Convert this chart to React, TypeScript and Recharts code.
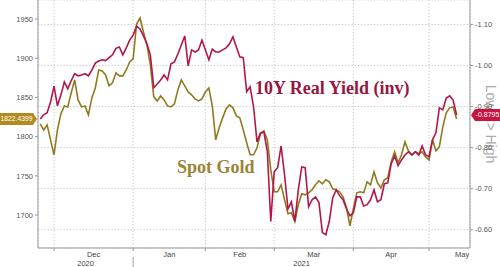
import React from 'react';
import { LineChart, Line, XAxis, YAxis, CartesianGrid, ReferenceLine, Customized } from 'recharts';

// x positions are weekday indices, 0 = Tue 1 Dec 2020
const FIRST_DAY = -4;

const goldSpot = [
  1816.3, 1808.6, 1815.0, 1795.9, 1776.8, 1808.6, 1829.0, 1839.2, 1837.9, 1855.8,
  1872.3, 1846.8, 1837.9, 1839.2, 1827.7, 1849.4, 1862.1, 1885.0, 1883.8, 1878.7,
  1864.7, 1868.5, 1881.2, 1877.4, 1877.4, 1885.0, 1895.2, 1899.1, 1943.6, 1951.3,
  1933.4, 1916.9, 1891.4, 1850.7, 1845.6, 1851.9, 1846.8, 1839.2, 1837.9, 1841.7,
  1859.6, 1872.3, 1864.7, 1857.0, 1853.2, 1848.1, 1845.6, 1848.1, 1857.0, 1862.1,
  1839.2, 1795.9, 1811.2, 1823.9, 1835.4, 1840.5, 1836.7, 1826.5, 1823.9, 1808.6,
  1792.1, 1776.8, 1776.8, 1785.7, 1803.5, 1807.4, 1795.9, 1757.7, 1729.7, 1729.7,
  1738.6, 1719.5, 1701.6, 1702.9, 1691.5, 1713.1, 1727.1, 1725.8, 1728.4, 1732.2,
  1738.6, 1743.7, 1739.9, 1745.0, 1742.4, 1733.5, 1732.2, 1729.7, 1723.3, 1709.3,
  1686.4, 1708.0, 1728.4, 1729.7, 1728.4, 1742.4, 1738.6, 1755.1, 1741.1, 1734.8,
  1745.0, 1747.5, 1767.9, 1780.6, 1766.6, 1776.8, 1793.3, 1781.9, 1776.8, 1780.6,
  1778.1, 1780.6, 1774.2, 1770.4, 1795.9, 1781.9, 1787.0, 1812.5, 1830.3, 1836.7,
  1837.9, 1822.4399,
];

const realYield10y = [
  -0.870, -0.880, -0.885, -0.911, -0.950, -0.902, -0.928, -0.960, -0.943, -0.963,
  -0.980, -0.975, -0.977, -0.980, -0.975, -0.989, -1.006, -1.011, -1.014, -1.012,
  -1.019, -1.026, -1.042, -1.045, -1.026, -1.043, -1.062, -1.074, -1.096, -1.089,
  -1.072, -1.053, -1.026, -0.946, -0.955, -0.965, -0.977, -0.965, -1.004, -1.009,
  -1.028, -1.050, -1.072, -0.999, -1.038, -1.033, -1.038, -1.062, -1.038, -1.014,
  -1.040, -1.033, -1.033, -1.038, -1.043, -1.053, -1.070, -1.045, -1.021, -1.019,
  -0.936, -0.948, -0.899, -0.814, -0.836, -0.838, -0.790, -0.620, -0.741, -0.751,
  -0.804, -0.734, -0.651, -0.668, -0.620, -0.697, -0.753, -0.751, -0.656, -0.673,
  -0.680, -0.666, -0.593, -0.588, -0.620, -0.678, -0.697, -0.683, -0.673, -0.651,
  -0.634, -0.641, -0.680, -0.680, -0.658, -0.661, -0.673, -0.697, -0.668, -0.673,
  -0.712, -0.714, -0.761, -0.780, -0.756, -0.770, -0.782, -0.790, -0.782, -0.790,
  -0.782, -0.804, -0.782, -0.778, -0.819, -0.836, -0.897, -0.892, -0.921, -0.926,
  -0.916, -0.8795,
];

const monthStarts = [0, 23, 44, 64, 87, 109];
const monthMids = [11.5, 33.5, 54, 75.5, 98, 118.6];
const monthNames = ['Dec', 'Jan', 'Feb', 'Mar', 'Apr', 'May'];
const years = ['2020', '2021'];
const goldTicks = [1700, 1750, 1800, 1850, 1900, 1950];
const yieldTicks = [-1.1, -1.0, -0.9, -0.8, -0.7, -0.6];

const chartData = goldSpot.map((g, i) => ({
  day: FIRST_DAY + i,
  gold: g,
  yield: realYield10y[i],
}));

const W = 500;
const H = 267;
const LEFT_W = 38;
const RIGHT_W = 30;
const X_DOMAIN: [number, number] = [-4.65, 120.9];
const PX_PER_DAY = (W - LEFT_W - RIGHT_W) / (X_DOMAIN[1] - X_DOMAIN[0]);

const RED = '#b3164a';
const GOLD = '#8f7a1f';
const AXIS = '#999';

const MonthTick = (props: any) => {
  const { x, y, payload } = props;
  const idx = monthStarts.indexOf(payload.value);
  const lx = x + (monthMids[idx] - payload.value) * PX_PER_DAY;
  return (
    <g>
      <text x={lx} y={y + 4} textAnchor="middle" fontSize={7.5} fill="#444">
        {monthNames[idx]}
      </text>
      {idx === 1 && (
        <g>
          <line x1={x} x2={x} y1={y + 4} y2={H} stroke="#888" strokeWidth={0.8} />
          <text x={(LEFT_W + x) / 2} y={y + 12.5} textAnchor="middle" fontSize={7.5} fill="#444">
            {years[0]}
          </text>
          <text x={(x + W - RIGHT_W) / 2} y={y + 12.5} textAnchor="middle" fontSize={7.5} fill="#444">
            {years[1]}
          </text>
        </g>
      )}
    </g>
  );
};

const GoldTag = (props: any) => {
  const { viewBox } = props;
  const y = viewBox.y;
  const tip = viewBox.x - 1;
  return (
    <g>
      <path d={`M0,${y - 6} H${tip - 4} L${tip},${y} L${tip - 4},${y + 6} H0 Z`} fill="#b38a1e" />
      <text x={(tip - 4) / 2} y={y + 2.4} textAnchor="middle" fontSize={6.8} fill="#fff">
        {goldSpot[goldSpot.length - 1].toFixed(4)}
      </text>
    </g>
  );
};

const YieldTag = (props: any) => {
  const { viewBox } = props;
  const y = viewBox.y;
  const tip = viewBox.x + viewBox.width + 1;
  return (
    <g>
      <path d={`M${tip},${y} L${tip + 4},${y - 6} H${W} V${y + 6} H${tip + 4} Z`} fill="#c8143f" />
      <text x={(tip + 4 + W) / 2} y={y + 2.5} textAnchor="middle" fontSize={7} fill="#fff">
        {realYield10y[realYield10y.length - 1].toFixed(4)}
      </text>
    </g>
  );
};

const Annotations = () => (
  <g>
    <text x={255} y={94} fontFamily="'Liberation Serif', serif" fontWeight="bold" fontSize={18} fill="#98163f">
      10Y Real Yield (inv)
    </text>
    <text x={177} y={173} fontFamily="'Liberation Serif', serif" fontWeight="bold" fontSize={18} fill="#9c8436">
      Spot Gold
    </text>
    <text
      x={490}
      y={124}
      transform="rotate(90 490 124)"
      textAnchor="middle"
      dominantBaseline="middle"
      fontSize={14}
      fill="#aaa"
    >
      Low &lt;&gt; High
    </text>
  </g>
);

export default function App() {
  return (
    <div style={{ position: 'absolute', left: 0, top: 0, fontFamily: "'Liberation Sans', Arial, sans-serif" }}>
      <LineChart width={W} height={H} data={chartData} margin={{ top: 0, right: 0, bottom: 0, left: 0 }}>
        <CartesianGrid yAxisId="right" stroke="#c4c4c4" strokeDasharray="1.2 2" />
        <XAxis
          dataKey="day"
          type="number"
          domain={X_DOMAIN}
          allowDataOverflow
          ticks={monthStarts}
          interval={0}
          height={19}
          tickSize={3}
          axisLine={{ stroke: AXIS }}
          tickLine={{ stroke: AXIS }}
          tick={<MonthTick />}
        />
        <YAxis
          yAxisId="left"
          orientation="left"
          width={LEFT_W}
          domain={[1658, 1974.2]}
          allowDataOverflow
          ticks={goldTicks}
          interval={0}
          tickSize={3}
          axisLine={{ stroke: AXIS }}
          tickLine={{ stroke: AXIS }}
          tick={{ fontSize: 7.5, fill: '#555' }}
        />
        <YAxis
          yAxisId="right"
          orientation="right"
          width={RIGHT_W}
          reversed
          domain={[-1.1596, -0.5555]}
          allowDataOverflow
          ticks={yieldTicks}
          interval={0}
          tickSize={3}
          tickFormatter={(v: number) => v.toFixed(2)}
          axisLine={{ stroke: AXIS }}
          tickLine={{ stroke: AXIS }}
          tick={{ fontSize: 7.5, fill: '#555' }}
        />
        <Customized component={<Annotations />} />
        <Line
          yAxisId="left"
          dataKey="gold"
          stroke={GOLD}
          strokeWidth={1.6}
          dot={false}
          isAnimationActive={false}
        />
        <Line
          yAxisId="right"
          dataKey="yield"
          stroke={RED}
          strokeWidth={1.6}
          dot={false}
          isAnimationActive={false}
        />
        <ReferenceLine yAxisId="left" y={goldSpot[goldSpot.length - 1]} stroke="none" label={<GoldTag />} />
        <ReferenceLine yAxisId="right" y={realYield10y[realYield10y.length - 1]} stroke="none" label={<YieldTag />} />
      </LineChart>
    </div>
  );
}
